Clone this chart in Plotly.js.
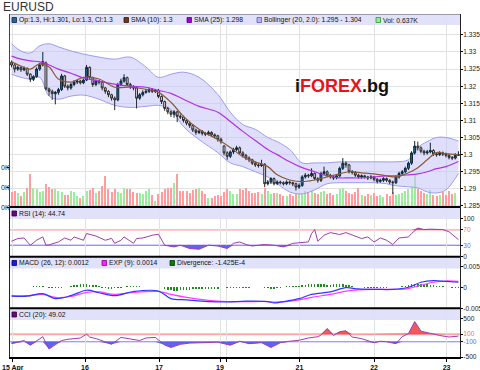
<!DOCTYPE html>
<html><head><meta charset="utf-8">
<script src="https://cdn.plot.ly/plotly-3.0.1.min.js"></script>
<style>body{margin:0;background:#fff}#chart{width:480px;height:370px}</style>
</head><body><div id="chart"></div>
<script>
// ---------- DATA (hourly EURUSD candles) ----------
const openP = [1.3270,1.3262,1.3250,1.3255,1.3248,1.3252,1.3235,1.3220,1.3228,1.3250,
 1.3262,1.3268,1.3192,1.3185,1.3178,1.3182,1.3190,1.3230,1.3200,1.3195,
 1.3205,1.3212,1.3215,1.3210,1.3218,1.3255,1.3225,1.3205,1.3215,1.3212,
 1.3195,1.3185,1.3175,1.3165,1.3160,1.3205,1.3215,1.3225,1.3205,1.3198,
 1.3195,1.3165,1.3175,1.3182,1.3185,1.3190,1.3185,1.3188,1.3170,1.3155,
 1.3135,1.3125,1.3118,1.3125,1.3112,1.3110,1.3100,1.3092,1.3085,1.3072,
 1.3065,1.3068,1.3062,1.3060,1.3065,1.3058,1.3055,1.3045,1.3025,1.3005,
 1.2995,1.3008,1.3015,1.3020,1.3005,1.2998,1.2990,1.2985,1.2975,1.2970,
 1.2968,1.2972,1.2915,1.2920,1.2930,1.2915,1.2920,1.2918,1.2915,1.2920,
 1.2918,1.2915,1.2905,1.2910,1.2935,1.2940,1.2938,1.2945,1.2930,1.2925,
 1.2945,1.2950,1.2940,1.2935,1.2932,1.2938,1.2960,1.2975,1.2970,1.2950,
 1.2948,1.2940,1.2935,1.2938,1.2935,1.2932,1.2935,1.2928,1.2922,1.2925,
 1.2930,1.2925,1.2920,1.2918,1.2935,1.2945,1.2950,1.2960,1.2975,1.3005,
 1.3025,1.3020,1.3010,1.3005,1.3008,1.3012,1.3002,1.3000,1.3005,1.3002,
 1.2998,1.2992,1.2990,1.2998];
const highP = [1.3275,1.3266,1.3260,1.3258,1.3258,1.3255,1.3238,1.3232,1.3255,1.3268,
 1.3300,1.3272,1.3196,1.3190,1.3186,1.3195,1.3236,1.3233,1.3205,1.3210,
 1.3218,1.3220,1.3219,1.3222,1.3262,1.3258,1.3228,1.3220,1.3219,1.3215,
 1.3198,1.3188,1.3178,1.3170,1.3210,1.3222,1.3235,1.3228,1.3210,1.3203,
 1.3198,1.3180,1.3188,1.3192,1.3196,1.3194,1.3192,1.3192,1.3173,1.3158,
 1.3140,1.3130,1.3130,1.3128,1.3118,1.3114,1.3104,1.3096,1.3088,1.3076,
 1.3074,1.3072,1.3066,1.3070,1.3068,1.3062,1.3058,1.3050,1.3028,1.3010,
 1.3012,1.3020,1.3026,1.3024,1.3010,1.3002,1.2995,1.2988,1.2980,1.2974,
 1.2985,1.2975,1.2926,1.2934,1.2933,1.2925,1.2924,1.2922,1.2925,1.2924,
 1.2921,1.2918,1.2916,1.2940,1.2946,1.2944,1.2960,1.2948,1.2934,1.2950,
 1.2965,1.2954,1.2944,1.2938,1.2942,1.2965,1.2990,1.2980,1.2973,1.2955,
 1.2952,1.2944,1.2942,1.2941,1.2938,1.2940,1.2938,1.2932,1.2930,1.2934,
 1.2933,1.2928,1.2924,1.2940,1.2950,1.2955,1.2965,1.2980,1.3010,1.3040,
 1.3038,1.3024,1.3014,1.3014,1.3035,1.3016,1.3006,1.3010,1.3009,1.3006,
 1.3002,1.2996,1.3004,1.3010];
const lowP = [1.3255,1.3240,1.3245,1.3242,1.3244,1.3230,1.3212,1.3215,1.3225,1.3245,
 1.3258,1.3188,1.3172,1.3160,1.3147,1.3175,1.3186,1.3195,1.3188,1.3190,
 1.3200,1.3206,1.3205,1.3206,1.3215,1.3220,1.3198,1.3200,1.3205,1.3188,
 1.3178,1.3168,1.3158,1.3130,1.3156,1.3200,1.3210,1.3200,1.3192,1.3188,
 1.3135,1.3160,1.3170,1.3178,1.3180,1.3180,1.3180,1.3165,1.3148,1.3128,
 1.3118,1.3110,1.3108,1.3095,1.3104,1.3094,1.3086,1.3078,1.3066,1.3058,
 1.3060,1.3056,1.3054,1.3056,1.3052,1.3048,1.3038,1.3032,1.2998,1.2985,
 1.2990,1.3002,1.3010,1.3000,1.2992,1.2984,1.2978,1.2970,1.2964,1.2962,
 1.2964,1.2905,1.2910,1.2914,1.2910,1.2911,1.2913,1.2910,1.2911,1.2912,
 1.2908,1.2895,1.2900,1.2906,1.2930,1.2932,1.2934,1.2925,1.2918,1.2920,
 1.2940,1.2935,1.2930,1.2926,1.2928,1.2934,1.2955,1.2962,1.2945,1.2942,
 1.2935,1.2930,1.2930,1.2930,1.2926,1.2928,1.2922,1.2916,1.2918,1.2920,
 1.2920,1.2914,1.2885,1.2914,1.2930,1.2940,1.2945,1.2955,1.2970,1.3000,
 1.3012,1.3004,1.2998,1.3000,1.3004,1.2996,1.2994,1.2996,1.2996,1.2992,
 1.2986,1.2984,1.2986,1.2996];
const closeP = [1.3262,1.3250,1.3255,1.3248,1.3252,1.3235,1.3220,1.3228,1.3250,1.3262,
 1.3272,1.3192,1.3185,1.3178,1.3182,1.3190,1.3230,1.3200,1.3195,1.3205,
 1.3212,1.3215,1.3210,1.3218,1.3255,1.3225,1.3205,1.3215,1.3212,1.3195,
 1.3185,1.3175,1.3165,1.3160,1.3205,1.3215,1.3225,1.3205,1.3198,1.3195,
 1.3165,1.3175,1.3182,1.3185,1.3190,1.3185,1.3188,1.3170,1.3155,1.3135,
 1.3125,1.3118,1.3125,1.3112,1.3110,1.3100,1.3092,1.3085,1.3072,1.3065,
 1.3068,1.3062,1.3060,1.3065,1.3058,1.3055,1.3045,1.3038,1.3005,1.2995,
 1.3008,1.3015,1.3020,1.3005,1.2998,1.2990,1.2985,1.2975,1.2970,1.2968,
 1.2972,1.2915,1.2920,1.2930,1.2915,1.2920,1.2918,1.2915,1.2920,1.2918,
 1.2915,1.2905,1.2910,1.2935,1.2940,1.2938,1.2945,1.2930,1.2925,1.2945,
 1.2950,1.2940,1.2935,1.2932,1.2938,1.2960,1.2975,1.2970,1.2950,1.2948,
 1.2940,1.2935,1.2938,1.2935,1.2932,1.2935,1.2928,1.2922,1.2925,1.2930,
 1.2925,1.2920,1.2918,1.2935,1.2945,1.2950,1.2960,1.2975,1.3005,1.3025,
 1.3020,1.3010,1.3005,1.3008,1.3012,1.3002,1.3000,1.3005,1.3002,1.2998,
 1.2992,1.2990,1.2998,1.3000];
const volK = [7.6,8.0,7.0,5.5,7.6,9.5,16.5,9.5,8.8,7.6,
 8.0,11.3,9.8,9.2,9.2,8.0,7.7,6.0,6.0,8.0,
 7.6,5.5,4.3,5.5,8.0,8.3,9.6,7.2,8.0,10.5,
 15.5,9.2,7.5,8.8,7.6,7.2,9.7,8.8,8.8,7.6,
 7.2,7.2,6.3,8.0,8.8,5.8,3.0,6.4,7.5,8.8,
 9.6,9.6,12.0,16.7,8.0,8.0,8.0,7.0,8.3,8.8,
 9.6,8.0,6.3,4.7,4.7,5.5,6.0,5.5,7.6,8.8,
 8.0,6.3,6.7,8.8,8.3,9.6,8.0,7.0,7.0,7.6,
 6.7,9.6,8.0,6.4,7.0,7.0,6.4,5.5,5.5,6.4,
 5.5,6.7,6.3,7.0,8.0,7.5,8.5,7.0,6.5,7.5,
 8.0,6.5,7.0,6.0,6.5,9.0,9.5,8.0,7.0,6.5,
 7.5,9.5,6.0,5.5,6.5,6.0,7.0,5.5,6.0,5.0,
 6.5,5.5,7.5,6.0,6.5,7.0,8.0,9.0,10.0,16.5,
 9.0,8.0,7.0,6.5,8.5,6.0,5.5,6.0,7.5,6.0,
 8.0,6.5,7.0,0.637];

// moving averages & Bollinger bands (sampled along the candle index)
const maIdx = [0,3,6,9,12,15,19,23,28,33,38,43,47,51,55,60,66,70,74,78,82,85,89,93,97,101,105,108,112,116,120,123,127,130,133,136,139,143];
const sma10 = [1.3271,1.3259,1.3250,1.3265,1.3256,1.3221,1.3212,1.3226,1.3221,1.3197,1.3197,1.3191,1.3182,1.3153,1.3112,1.3074,1.3044,1.3021,1.2994,1.2979,1.2965,1.2941,1.2926,1.2921,1.2926,1.2935,1.2944,1.2950,1.2947,1.2944,1.2938,1.2935,1.2947,1.2962,1.2985,1.3006,1.3003,1.3000];
const sma25 = [1.3288,1.3279,1.3274,1.3271,1.3262,1.3250,1.3238,1.3224,1.3215,1.3206,1.3200,1.3197,1.3188,1.3179,1.3162,1.3141,1.3124,1.3097,1.3068,1.3041,1.3015,1.3000,1.2979,1.2962,1.2950,1.2938,1.2932,1.2932,1.2932,1.2935,1.2938,1.2938,1.2941,1.2944,1.2950,1.2959,1.2965,1.2980];
const bbUpper = [1.3324,1.3303,1.3297,1.3318,1.3324,1.3315,1.3303,1.3294,1.3285,1.3279,1.3285,1.3256,1.3226,1.3235,1.3241,1.3226,1.3176,1.3124,1.3088,1.3074,1.3050,1.3038,1.3015,1.2976,1.2976,1.2976,1.2979,1.2979,1.2979,1.2979,1.2979,1.2979,1.2985,1.3021,1.3038,1.3050,1.3050,1.3040];
const bbLower = [1.3235,1.3226,1.3221,1.3226,1.3171,1.3162,1.3171,1.3174,1.3162,1.3144,1.3138,1.3141,1.3144,1.3132,1.3082,1.3044,1.3006,1.2976,1.2965,1.2950,1.2935,1.2915,1.2891,1.2885,1.2897,1.2915,1.2918,1.2918,1.2918,1.2918,1.2915,1.2909,1.2906,1.2903,1.2891,1.2888,1.2897,1.2945];

// RSI (14)
const rsiIdx = [0,2,4,5,6,8,10,11,12,15,17,19,20,23,24,27,30,32,33,35,36,39,40,42,43,45,47,49,52,54,57,60,63,66,69,71,73,75,77,81,84,87,90,92,95,96,97,98,100,102,105,107,109,112,114,116,118,120,122,124,127,128,130,132,134,136,138,140,143];
const rsi = [40.5,47.5,49,38.6,30,43,51.7,30,31,38.6,49,43,51.7,43,60.6,54,43,48,35,43,51.7,35,47.5,49,51.7,56,58.8,30,25.6,30,21.4,19.5,30,28,21.4,35,38.6,32,28,32,30,25.6,35,37,38.6,60.6,71,40.5,56,63,58,63,56,47.5,51.7,38.6,49,43,32,49,51.7,60.6,75,71,72,71,71,65,44.74];

// MACD (26,12), EXP (9), Divergence
const macdIdx = [0,5,10,14,19,24,28,33,39,47,51,56,63,69,75,82,84,88,92,96,102,107,111,117,122,127,131,135,139,143];
const macd = [-0.0021,-0.0021,-0.0015,-0.0027,-0.0020,-0.0007,-0.0013,-0.0020,-0.0010,-0.0009,-0.0027,-0.0030,-0.0034,-0.0035,-0.0033,-0.0034,-0.0037,-0.0033,-0.0027,-0.0017,-0.0011,-0.0001,-0.0004,-0.0005,-0.0005,0.0000,0.0012,0.0016,0.0014,0.0012];
const exp9 = [-0.0020,-0.0020,-0.0017,-0.0024,-0.0022,-0.0012,-0.0011,-0.0017,-0.0012,-0.0010,-0.0017,-0.0024,-0.0031,-0.0034,-0.0034,-0.0034,-0.0035,-0.0034,-0.0030,-0.0024,-0.0017,-0.0009,-0.0006,-0.0005,-0.0005,-0.0003,0.0005,0.0012,0.0015,0.0014];
const divergence = [0,0,0,0,0,.0001,0,.0002,.0002,.0002,
 .0002,0,-.0002,-.0002,-.0002,-.0002,-.0002,0,0,.0004,
 .0005,.0006,.0007,.0007,.0007,.0006,.0006,.0005,.0004,-.0002,
 -.0002,-.0003,-.0003,-.0002,-.0002,-.0002,0,.0002,.0003,.0003,
 .0003,.0002,0,0,0,0,.0001,.0001,.0001,-.0004,
 -.0006,-.0007,-.0008,-.0008,-.0007,-.0007,-.0006,-.0006,-.0005,-.0005,
 -.0005,-.0004,-.0004,-.0004,-.0003,-.0003,-.0003,0,0,-.0002,
 -.0002,-.0002,-.0002,-.0001,-.0001,-.0002,-.0002,0,0,0,
 0,-.0002,-.0002,-.0003,-.0003,-.0002,-.0002,.0001,.0002,.0002,
 .0002,.0002,.0003,.0005,.0006,.0007,.0008,.0008,.0008,.0007,
 .0007,.0006,.0006,.0007,.0008,.0008,.0007,.0006,.0005,.0004,
 0,0,0,-.0001,-.0001,-.0002,-.0002,-.0001,-.0001,-.0001,
 -.0001,0,0,0,0,.0003,.0004,.0005,.0007,.0008,
 .0009,.0009,.0008,.0007,.0006,.0005,.0004,.0004,.0003,0,
 0,-.0001,-.0001,-.00014];

// CCI (20)
const cciIdx = [0,3,4,6,8,10,12,14,16,18,20,22,24,25,28,32,35,39,41,43,46,49,51,54,57,61,66,70,73,76,80,83,86,89,92,95,98,99,101,103,105,107,109,112,116,118,120,123,125,127,129,131,134,137,140,143];
const cci = [-150,-100,-67,-190,-85,33,-290,-167,-67,-35,-25,0,100,25,-42,-167,15,-42,-67,0,15,-185,-250,-167,-135,-125,-110,-190,-85,-150,-125,-250,-125,-85,-60,0,33,75,250,65,165,190,25,-17,-125,-85,-100,-150,33,115,430,180,115,65,25,49.02];

// tick labels
const xTickIdx = [0.4,23.5,47.2,66.7,68.8,92.1,116,139.2];
const xTickText = ['15 Apr','16','17','19','','21','22','23'];
const priceTicks = [1.285,1.29,1.295,1.3,1.305,1.31,1.315,1.32,1.325,1.33,1.335];
const volTicks = [0,10,20];
const volTickText = ['0K','0K','0K'];   // as visible at the left edge of the reference
const rsiTicks = [0,30,70,100];
const macdTicks = [-0.005,0,0.005];
const macdTickText = ['-0.005','0','0.005'];
const cciTicks = [-500,-100,100,500];

// ---------- PLOT ----------
const H = 370, MT = 14, MB = 13, ML = 10, PW = 450, PH = 343;
const px = x => (x - ML) / PW;
const py = y => (H - MB - y) / PH;
const idx = closeP.map((_, i) => i);
const FONT = 'Liberation Sans, Arial, sans-serif';
const volColors = closeP.map((c, i) => c > openP[i] ? '#9cec9c' : (c < openP[i] ? '#ff9c9c' : '#c8c8c8'));

const traces = [
  {type:'bar', x:idx, y:volK, xaxis:'x', yaxis:'y', width:0.62, marker:{color:volColors, line:{width:0}}, hoverinfo:'skip'},
  {type:'scatter', mode:'lines', x:maIdx, y:bbUpper, xaxis:'x', yaxis:'y2', line:{color:'#9c9cf0', width:1, shape:'spline'}, hoverinfo:'skip'},
  {type:'scatter', mode:'lines', x:maIdx, y:bbLower, xaxis:'x', yaxis:'y2', fill:'tonexty', fillcolor:'rgba(196,196,250,0.55)', line:{color:'#9c9cf0', width:1, shape:'spline'}, hoverinfo:'skip'},
  {type:'candlestick', x:idx, open:openP, high:highP, low:lowP, close:closeP, xaxis:'x', yaxis:'y6', whiskerwidth:0,
    increasing:{line:{color:'#0c2638', width:1}, fillcolor:'#1f6a92'},
    decreasing:{line:{color:'#2a2a2a', width:1}, fillcolor:'#e4e4e4'}, hoverinfo:'skip'},
  {type:'scatter', mode:'lines', x:maIdx, y:sma25, xaxis:'x', yaxis:'y6', line:{color:'#b030e8', width:1.2, shape:'spline'}, hoverinfo:'skip'},
  {type:'scatter', mode:'lines', x:maIdx, y:sma10, xaxis:'x', yaxis:'y6', line:{color:'#8c5a38', width:1.2, shape:'spline'}, hoverinfo:'skip'},
  // RSI
  {type:'scatter', mode:'lines', x:rsiIdx, y:rsiIdx.map(() => 70), xaxis:'x', yaxis:'y3', line:{width:0}, hoverinfo:'skip'},
  {type:'scatter', mode:'lines', x:rsiIdx, y:rsi.map(v => Math.max(v, 70)), xaxis:'x', yaxis:'y3', fill:'tonexty', fillcolor:'rgba(240,60,60,0.85)', line:{width:0}, hoverinfo:'skip'},
  {type:'scatter', mode:'lines', x:rsiIdx, y:rsiIdx.map(() => 30), xaxis:'x', yaxis:'y3', line:{width:0}, hoverinfo:'skip'},
  {type:'scatter', mode:'lines', x:rsiIdx, y:rsi.map(v => Math.min(v, 30)), xaxis:'x', yaxis:'y3', fill:'tonexty', fillcolor:'rgba(70,70,240,0.85)', line:{width:0}, hoverinfo:'skip'},
  {type:'scatter', mode:'lines', x:rsiIdx, y:rsi, xaxis:'x', yaxis:'y3', line:{color:'#a03cb0', width:1}, hoverinfo:'skip'},
  // MACD
  {type:'bar', x:idx, y:divergence, xaxis:'x', yaxis:'y4', width:0.45, marker:{color:'#1e8c1e', line:{width:0}}, hoverinfo:'skip'},
  {type:'scatter', mode:'lines', x:macdIdx, y:exp9, xaxis:'x', yaxis:'y4', line:{color:'#ff3cff', width:1.2, shape:'spline'}, hoverinfo:'skip'},
  {type:'scatter', mode:'lines', x:macdIdx, y:macd, xaxis:'x', yaxis:'y4', line:{color:'#3434ff', width:1.2, shape:'spline'}, hoverinfo:'skip'},
  // CCI
  {type:'scatter', mode:'lines', x:cciIdx, y:cciIdx.map(() => 100), xaxis:'x', yaxis:'y5', line:{width:0}, hoverinfo:'skip'},
  {type:'scatter', mode:'lines', x:cciIdx, y:cci.map(v => Math.max(v, 100)), xaxis:'x', yaxis:'y5', fill:'tonexty', fillcolor:'rgba(240,60,60,0.85)', line:{width:0}, hoverinfo:'skip'},
  {type:'scatter', mode:'lines', x:cciIdx, y:cciIdx.map(() => -100), xaxis:'x', yaxis:'y5', line:{width:0}, hoverinfo:'skip'},
  {type:'scatter', mode:'lines', x:cciIdx, y:cci.map(v => Math.min(v, -100)), xaxis:'x', yaxis:'y5', fill:'tonexty', fillcolor:'rgba(70,70,240,0.85)', line:{width:0}, hoverinfo:'skip'},
  {type:'scatter', mode:'lines', x:cciIdx, y:cci, xaxis:'x', yaxis:'y5', line:{color:'#a03cb0', width:1}, hoverinfo:'skip'}
];

const tickFont = {family:FONT, size:6.6, color:'#222'};
const gridC = '#e2e2e2';
const subAxis = (dom, rng, tv, tt) => ({domain:dom, range:rng, side:'right', anchor:'x', tickvals:tv, ticktext:tt,
  ticks:'outside', ticklen:2, ticklabelstandoff:-1, tickcolor:'#000', showline:true, mirror:true, linecolor:'#222', linewidth:1,
  showgrid:false, zeroline:false, tickfont:tickFont, fixedrange:true});

const domMain = [py(207), 1], domRsi = [py(256.7), py(207)], domMacd = [py(308.3), py(256.7)], domCci = [0, py(308.3)];

const shapes = [];
const bands = [[14.5, 25], [208, 219], [257.5, 268.5], [309, 320]];
bands.forEach(b => shapes.push({type:'rect', xref:'paper', yref:'paper', x0:0, x1:1, y0:py(b[1]), y1:py(b[0]),
  fillcolor:'rgba(222,222,250,0.92)', line:{width:0}, layer:'above'}));
shapes.push({type:'line', xref:'paper', yref:'paper', x0:0, x1:1, y0:py(14.5), y1:py(14.5), line:{color:'#9a9aaa', width:1}, layer:'above'});
[207, 256.7, 308.3].forEach(y => shapes.push({type:'line', xref:'paper', yref:'paper', x0:0, x1:1, y0:py(y), y1:py(y), line:{color:'#000', width:2}, layer:'above'}));
shapes.push({type:'line', xref:'paper', yref:'y3', x0:0, x1:1, y0:70, y1:70, line:{color:'#ff8a8a', width:1}, layer:'below'});
shapes.push({type:'line', xref:'paper', yref:'y3', x0:0, x1:1, y0:30, y1:30, line:{color:'#6464ff', width:1}, layer:'below'});
shapes.push({type:'line', xref:'paper', yref:'y5', x0:0, x1:1, y0:100, y1:100, line:{color:'#ffaaaa', width:2}, layer:'below'});
shapes.push({type:'line', xref:'paper', yref:'y5', x0:0, x1:1, y0:-100, y1:-100, line:{color:'#7c7cff', width:1}, layer:'below'});

const annotations = [];
const legendItems = [
  [20, 12, '#1f6a92', '#0c2638', 'Op:1.3, Hi:1.301, Lo:1.3, Cl:1.3'],
  [20, 124, '#6b3a1a', '#3a1a08', 'SMA (10): 1.3'],
  [20, 187, '#9a00e0', '#5a0090', 'SMA (25): 1.298'],
  [20, 257, '#b4b4f4', '#5a5ac8', 'Bollinger (20, 2.0): 1.295 - 1.304'],
  [20, 376, '#96ec96', '#2a9a2a', 'Vol: 0.637K'],
  [213.5, 12, '#6a0a7a', '#300038', 'RSI (14): 44.74'],
  [263, 12, '#1a1aee', '#000080', 'MACD (26, 12): 0.0012'],
  [263, 102, '#ff22ff', '#900090', 'EXP (9): 0.0014'],
  [263, 170, '#0e7a0e', '#004000', 'Divergence: -1.425E-4'],
  [314.5, 12, '#6a0a7a', '#300038', 'CCI (20): 49.02']
];
legendItems.forEach(it => {
  const [cy, x0, fill, edge, txt] = it;
  shapes.push({type:'rect', xref:'paper', yref:'paper', x0:px(x0), x1:px(x0 + 4.5), y0:py(cy + 2.5), y1:py(cy - 2.5),
    fillcolor:fill, line:{color:edge, width:0.8}, layer:'above'});
  annotations.push({xref:'paper', yref:'paper', x:px(x0 + 5.5), y:py(cy), xanchor:'left', yanchor:'middle', showarrow:false,
    text:txt, font:{family:FONT, size:6.8, color:'#111'}, borderpad:0});
});
// volume axis labels (left edge), placed at the volume tick values
volTicks.forEach((v, k) => annotations.push({xref:'paper', yref:'y', x:px(0), y:v, xanchor:'left', yanchor:'middle',
  showarrow:false, text:volTickText[k], font:{family:FONT, size:7, color:'#222'}, borderpad:0}));
annotations.push({xref:'paper', yref:'paper', x:px(1), y:py(7), xanchor:'left', yanchor:'middle', showarrow:false,
  text:'EURUSD', font:{family:FONT, size:12, color:'#333'}});
annotations.push({xref:'paper', yref:'paper', x:px(342), y:py(86), xanchor:'center', yanchor:'middle', showarrow:false,
  text:'i<span style="color:#e3141c">FOREX</span>.bg', font:{family:FONT, size:18, color:'#111', weight:'bold'}});

const layout = {
  width:480, height:370, margin:{l:ML, r:20, t:MT, b:MB}, paper_bgcolor:'#fff', plot_bgcolor:'#fff', showlegend:false,
  bargap:0, barmode:'overlay', boxgap:0.15,
  xaxis:{domain:[0,1], range:[-0.5,143.5], anchor:'y5', tickvals:xTickIdx, ticktext:xTickText, ticks:'outside', ticklen:3,
    tickcolor:'#000', showline:true, linecolor:'#000', linewidth:1.5, showgrid:true, gridcolor:gridC, zeroline:false,
    tickfont:{family:FONT, size:7, color:'#111', weight:'bold'}, rangeslider:{visible:false}, fixedrange:true},
  yaxis:{domain:domMain, range:[0,96.5], side:'left', anchor:'x', tickvals:volTicks, showticklabels:false, ticks:'outside', ticklen:2,
    tickcolor:'#000', showline:true, linecolor:'#444', showgrid:false, zeroline:false, fixedrange:true},
  yaxis2:{overlaying:'y', side:'right', anchor:'x', range:[1.2847,1.3411], tickvals:priceTicks, ticks:'outside', ticklen:2, ticklabelstandoff:-1, tickcolor:'#000',
    showline:true, linecolor:'#222', showgrid:true, gridcolor:gridC, zeroline:false, tickfont:tickFont, fixedrange:true},
  yaxis6:{overlaying:'y', side:'right', anchor:'x', range:[1.2847,1.3411], visible:false, showgrid:false, zeroline:false, fixedrange:true},
  yaxis3:subAxis(domRsi, [0,130], rsiTicks, ['0','<span style="color:#6a6aff">30</span>','<span style="color:#ff6a6a">70</span>','100']),
  yaxis4:subAxis(domMacd, [-0.005,0.00728], macdTicks, macdTickText),
  yaxis5:subAxis(domCci, [-500,780], cciTicks, ['-500','<span style="color:#6a6aff">-100</span>','<span style="color:#ff6a6a">100</span>','500']),
  shapes:shapes, annotations:annotations
};

Plotly.newPlot('chart', traces, layout, {staticPlot:true, displayModeBar:false});
</script>
</body></html>
